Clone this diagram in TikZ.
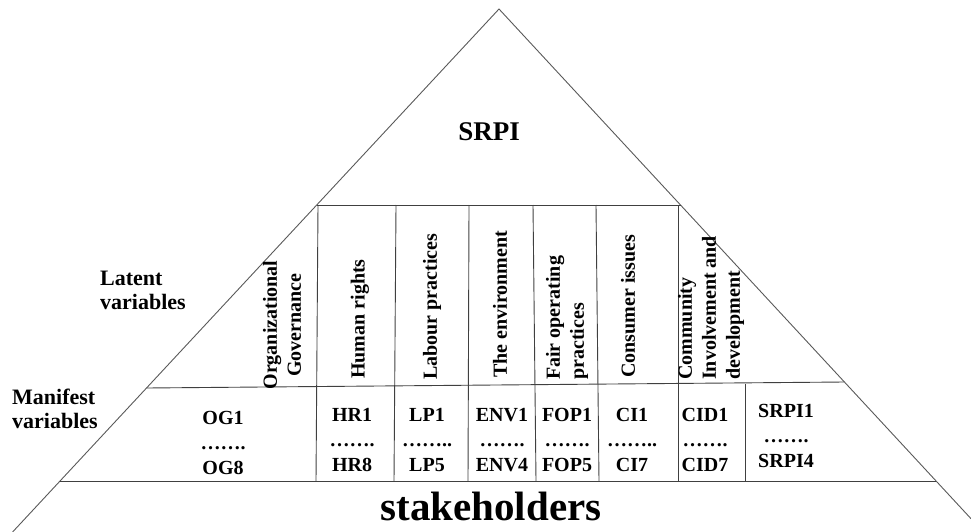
\documentclass[tikz,border=0pt]{standalone}
\usepackage{fontspec}
\setmainfont{Liberation Serif}
\begin{document}
\begin{tikzpicture}[x=1pt,y=-1pt,
  edge/.style={draw=black!75,line width=0.9pt},
  side/.style={draw=black!65,line width=0.9pt},
  rot/.style={font=\bfseries\fontsize{20}{24}\selectfont,inner sep=0pt,rotate=90,anchor=west,align=left},
  cell/.style={font=\bfseries\fontsize{20}{25}\selectfont,inner sep=0pt,align=center},
  side label/.style={font=\bfseries\fontsize{22}{24}\selectfont,inner sep=0pt,align=left,anchor=west}]
\useasboundingbox (0,0) rectangle (971,532);
% triangle
\coordinate (apex) at (499,9);
\coordinate (bl) at (12.6,532);
\coordinate (br) at (971,518.7);
\draw[side] (bl) -- (apex) -- (br);
% horizontal lines
\draw[edge] (317,205) -- (680.5,205);
\draw[edge] (146.5,388) -- (844.4,382);
\draw[edge] (60,481) -- (936,481);
% vertical lines
\draw[edge] (318,205) -- (316,481);
\draw[edge] (396,205) -- (394,481);
\draw[edge] (469,205) -- (468,481);
\draw[edge] (533,205) -- (536,481);
\draw[edge] (596,205) -- (599,481);
\draw[edge] (678,205) -- (678,481);
\draw[edge] (745,384) -- (745,481);
% titles
\node[font=\bfseries\fontsize{27}{30}\selectfont,inner sep=0pt] (srpi) at (489,132) {SRPI};
\node[font=\bfseries\fontsize{41}{44}\selectfont,inner sep=0pt,anchor=base] (stake) at (491,520) {stakeholders};
\node[side label] (latent) at (100,290) {Latent\\variables};
\node[side label] (manifest) at (12,409) {Manifest\\variables};
% latent variables (rotated)
\node[rot,align=center,anchor=center] (og) at (282,325) {Organizational\\Governance};
\node[rot] (hr) at (360,379) {Human rights};
\node[rot] (lp) at (432,380) {Labour practices};
\node[rot] (env) at (500,378) {The environment};
\node[rot] (fop) at (567,380) {Fair operating\\practices};
\node[rot] (ci) at (628,378) {Consumer issues};
\node[rot] (cid) at (711,380) {Community\\Involvement and\\development};
% manifest variables
\node[cell] (ogm) at (223,443) {OG1\\…….\\OG8};
\node[cell] (hrm) at (352,440) {HR1\\…….\\HR8};
\node[cell] (lpm) at (427,440) {LP1\\……..\\LP5};
\node[cell] (envm) at (502,440) {ENV1\\…….\\ENV4};
\node[cell] (fopm) at (567,440) {FOP1\\…….\\FOP5};
\node[cell] (cim) at (632,440) {CI1\\……..\\CI7};
\node[cell] (cidm) at (705,440) {CID1\\…….\\CID7};
\node[cell] (srpim) at (786,436) {SRPI1\\…….\\SRPI4};
\end{tikzpicture}
\end{document}
